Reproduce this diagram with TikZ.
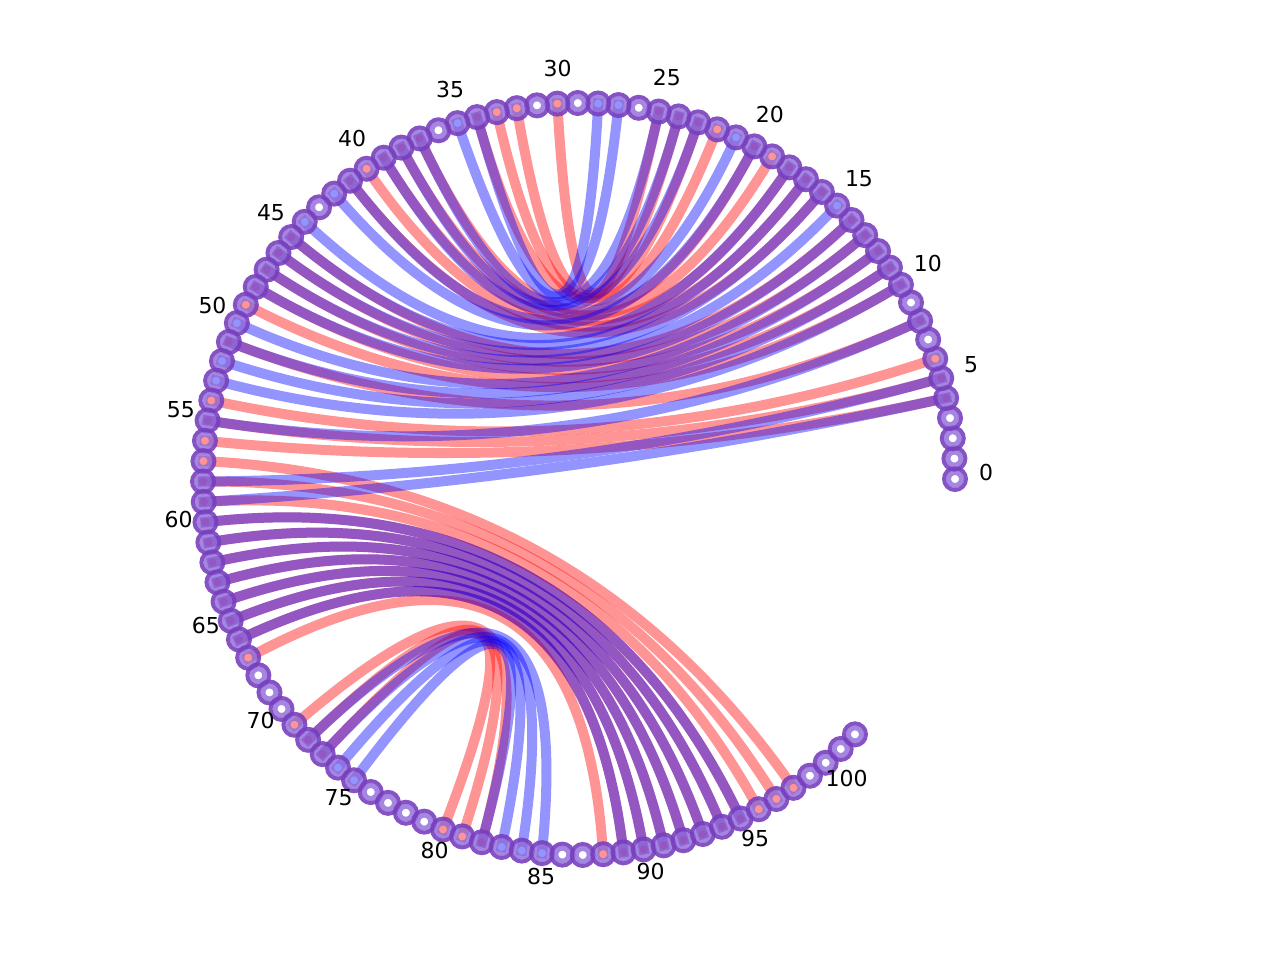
\documentclass[tikz,border=0pt]{standalone}
\usepackage{fontspec}
\setmainfont{DejaVu Sans}
\definecolor{ringlight}{HTML}{8E68D8}
\definecolor{ringdark}{HTML}{7840BE}

\begin{document}
\begin{tikzpicture}[x=0.02cm, y=0.02cm,
        redarc/.style={draw=red, line width=0.2cm, line cap=rect, opacity=0.42},
        bluearc/.style={draw=blue, line width=0.2cm, line cap=rect, opacity=0.42},
        ringin/.style={draw=ringlight, line width=0.1cm, opacity=0.8},
        ringout/.style={draw=ringdark, line width=0.08cm, opacity=0.9},
        idx/.style={font=\fontsize{12.5}{15}\selectfont, xshift=0.04cm, yshift=0.12cm}]
    \useasboundingbox (-579, -481) rectangle (701, 479);

    % bases on the circle, control points at a third of the radius
    \foreach \i in {0,...,102} {
        \coordinate (n\i) at ({\i*3.11}:376);
        \coordinate (c\i) at ({\i*3.11}:125.33);
    }

    % first structure
    \foreach \a/\b in {4/56, 5/55, 6/54, 8/51, 10/49, 11/48, 12/47, 13/46, 14/45,
            16/41, 17/40, 18/39, 19/38, 20/37, 22/34, 23/33, 24/32, 25/30,
            57/98, 58/97, 59/96, 60/95, 61/94, 62/93, 63/92, 64/91, 65/90, 66/89, 67/88,
            71/82, 72/81, 73/80}
        \draw[redarc] (n\a) .. controls (c\a) and (c\b) .. (n\b);

    % second structure
    \foreach \a/\b in {4/59, 5/58, 8/55, 10/53, 11/52, 12/51, 13/50, 14/48, 15/47,
            16/46, 17/45, 18/44, 20/42, 21/41, 23/39, 24/38, 25/37, 27/35, 28/34,
            60/95, 61/94, 62/93, 63/92, 64/91, 65/90, 66/89,
            72/85, 73/84, 74/83, 75/82}
        \draw[bluearc] (n\a) .. controls (c\a) and (c\b) .. (n\b);

    \foreach \i in {0,...,102} {
        \draw[ringin] (n\i) circle (0.13cm);
        \draw[ringout] (n\i) circle (0.22cm);
    }

    \foreach \i in {0,5,...,100}
        \node[idx] (l\i) at ({\i*3.11}:405) {\i};
\end{tikzpicture}
\end{document}
